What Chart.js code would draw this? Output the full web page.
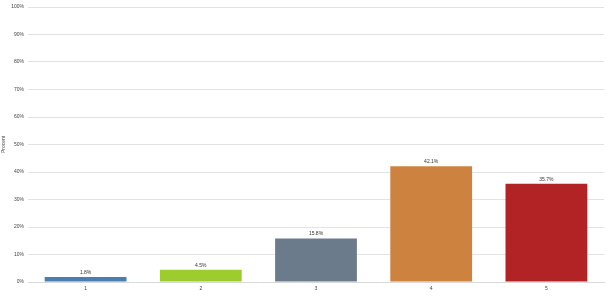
<!DOCTYPE html>
<html><head><meta charset="utf-8">
<script src="https://cdn.jsdelivr.net/npm/chart.js@4/dist/chart.umd.min.js"></script>
<style>html,body{margin:0;padding:0;background:#fff}#wrap{width:606px;height:297px}</style>
</head><body><div id="wrap"><canvas id="c"></canvas></div>
<script>
const categories = ["1","2","3","4","5"];
const values = [1.8, 4.5, 15.8, 42.1, 35.7];
const barColors = ["#4a7eb0", "#9ccc2e", "#6c7b8b", "#cd833f", "#b22326"];
const yTicks = [0,10,20,30,40,50,60,70,80,90,100];

const labelPlugin = {
  id: 'lbl',
  afterDatasetsDraw(chart) {
    const ctx = chart.ctx;
    const meta = chart.getDatasetMeta(0);
    ctx.save();
    ctx.font = '5px "Liberation Sans", Arial, sans-serif';
    ctx.fillStyle = '#333';
    ctx.textAlign = 'center';
    ctx.textBaseline = 'bottom';
    meta.data.forEach((el, i) => {
      ctx.fillText(values[i].toFixed(1) + '%', el.x, el.y - 2);
    });
    ctx.restore();
  }
};

new Chart(document.getElementById('c'), {
  type: 'bar',
  data: { labels: categories, datasets: [{ data: values, backgroundColor: barColors, categoryPercentage: 0.71, barPercentage: 1.0 }] },
  options: {
    responsive: true, maintainAspectRatio: false, animation: false,
    layout: { padding: { top: 3, right: 2, left: 0, bottom: 0 } },
    plugins: { legend: { display: false }, tooltip: { enabled: false } },
    scales: {
      x: {
        grid: { display: false, drawTicks: false },
        border: { display: true, color: '#d9d9d9' },
        ticks: { font: { size: 5, family: '"Liberation Sans", Arial, sans-serif' }, color: '#444', padding: 4 },
        afterFit(s) { s.height = 15; }
      },
      y: {
        min: 0, max: 100,
        afterBuildTicks(s) { s.ticks = yTicks.map(v => ({ value: v })); },
        grid: { color: '#e3e3e3', drawTicks: false },
        border: { display: false },
        ticks: { font: { size: 5, family: '"Liberation Sans", Arial, sans-serif' }, color: '#444', padding: 4, callback: v => v + '%' },
        title: { display: true, text: 'Procent', font: { size: 5, family: '"Liberation Sans", Arial, sans-serif' }, color: '#444', padding: 1 },
        afterFit(s) { s.width = 28; }
      }
    }
  },
  plugins: [labelPlugin]
});
</script></body></html>
